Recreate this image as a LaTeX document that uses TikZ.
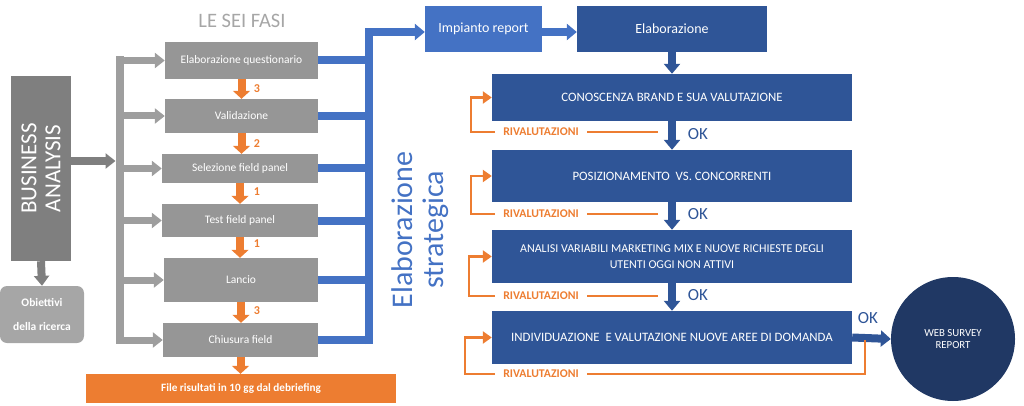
\documentclass[tikz,border=0pt]{standalone}
\usepackage{fontspec}
\setmainfont{Carlito}
\usetikzlibrary{arrows.meta,calc}
\definecolor{boxgray}{HTML}{969696}
\definecolor{bagray}{HTML}{7F7F7F}
\definecolor{obgray}{HTML}{A6A6A6}
\definecolor{brgray}{HTML}{9E9E9E}
\definecolor{titlegray}{HTML}{A6A6A6}
\definecolor{orng}{HTML}{ED7D31}
\definecolor{blu}{HTML}{4472C4}
\definecolor{dblu}{HTML}{2F5597}
\definecolor{navy}{HTML}{203864}
\begin{document}
\begin{tikzpicture}[x=1pt,y=-1pt,
  gbox/.style={fill=boxgray,text=white,inner sep=0pt,font=\fontsize{11.5}{13}\selectfont},
  dbox/.style={fill=dblu,text=white,inner sep=0pt,minimum width=360pt,align=center,font=\fontsize{12.8}{16}\selectfont},
  brarrow/.style={draw=brgray,line width=7pt,-{Triangle[width=15pt,length=10pt]}},
  brbar/.style={draw=brgray,line width=8pt},
  baarrow/.style={draw=bagray,line width=8pt,-{Triangle[width=15pt,length=10pt]}},
  orarrow/.style={draw=orng,line width=8pt,-{Triangle[width=17pt,length=8pt]}},
  numlbl/.style={text=orng,font=\bfseries\fontsize{12}{13}\selectfont,inner sep=0pt},
  bline/.style={draw=blu,line width=8pt,line join=miter},
  barrow/.style={draw=blu,line width=8pt,line join=miter,-{Triangle[width=16pt,length=10pt]}},
  dbarrow/.style={draw=dblu,line width=8pt,-{Triangle[width=16pt,length=10pt]}},
  fbline/.style={draw=orng,line width=2.5pt},
  fbarrow/.style={draw=orng,line width=2.5pt,line join=miter,-{Triangle[width=12pt,length=9pt]}},
  riv/.style={text=orng,font=\bfseries\fontsize{11.8}{13}\selectfont,inner xsep=8pt,inner ysep=0pt},
  oklbl/.style={text=dblu,font=\fontsize{17}{18}\selectfont,inner sep=0pt}
]
\useasboundingbox (0,0) rectangle (1024,406);

% title
\node[text=titlegray,font=\fontsize{20.5}{22}\selectfont] (title) at (242,21) {LE SEI FASI};

% gray phase boxes
\node[gbox,minimum width=153pt,minimum height=37pt] (q) at (241.5,60.5) {Elaborazione questionario};
\node[gbox,minimum width=153pt,minimum height=34pt] (v) at (241.5,116) {Validazione};
\node[gbox,minimum width=156pt,minimum height=29pt] (s) at (240,168.5) {Selezione field panel};
\node[gbox,minimum width=156pt,minimum height=33pt] (t) at (240,220.5) {Test field panel};
\node[gbox,minimum width=154pt,minimum height=44pt] (l) at (241,280) {Lancio};
\node[gbox,minimum width=155pt,minimum height=34pt] (c) at (240.5,340) {Chiusura field};
\node[fill=orng,text=white,inner sep=0pt,minimum width=310pt,minimum height=29pt,font=\bfseries\fontsize{11.2}{12}\selectfont] (file) at (241,388.5) {File risultati in 10 gg dal debriefing};

% orange step arrows
\draw[orarrow] (q.south) -- (q.south |- v.north);
\draw[orarrow] (v.south) -- (v.south |- s.north);
\draw[orarrow] (s.south) -- (s.south |- t.north);
\draw[orarrow] (t.south) -- (t.south |- l.north);
\draw[orarrow] (l.south) -- (l.south |- c.north);
\draw[orarrow] (c.south) -- (c.south |- file.north);
\node[numlbl] (n1) at (257,89) {3};
\node[numlbl] (n2) at (257,144) {2};
\node[numlbl] (n3) at (257,192) {1};
\node[numlbl] (n4) at (257,244) {1};
\node[numlbl] (n5) at (257,311) {3};

% business analysis
\node[fill=bagray,minimum width=60pt,minimum height=185pt,inner sep=0pt] (ba) at (41,168.5) {};
\node[rotate=90,text=white,align=center,font=\fontsize{23}{24}\selectfont] (batext) at (ba.center) {BUSINESS\\ANALYSIS};
\node[fill=obgray,rounded corners=7pt,minimum width=84pt,minimum height=57pt,inner sep=0pt,text=white,align=center,font=\bfseries\fontsize{11.5}{24}\selectfont] (ob) at (42,314.5) {Obiettivi\\della ricerca};
\draw[baarrow] (ba.south) -- (ob.north);

% gray bracket
\coordinate (bx) at (119.5,0);
\coordinate (btop) at (119.5,56.5);
\coordinate (bbot) at (119.5,344);
\coordinate (bain) at (115.5,161);
\draw[baarrow] (ba.east |- bain) -- (bain);
\draw[brbar] (btop) -- (bbot);
\foreach \b in {q,v,s,t,l,c} \draw[brarrow] (\b.west -| bx) -- (\b.west);

% blue collector
\node[fill=blu,text=white,inner sep=0pt,minimum width=117pt,minimum height=46pt,font=\fontsize{14}{15}\selectfont] (imp) at (483.5,29) {Impianto report};
\node[fill=dblu,text=white,inner sep=0pt,minimum width=190pt,minimum height=46pt,font=\fontsize{14}{15}\selectfont] (ela) at (672,29) {Elaborazione};
\coordinate (by) at (368.5,0);
\coordinate (y32) at (0,32);
\coordinate (bybot) at (368.5,344);
\foreach \b in {q,v,s,t,l,c} \draw[bline] (\b.east) -- (\b.east -| by);
\draw[barrow] (bybot) |- (imp.west |- y32);
\draw[barrow] (imp.east |- y32) -- (ela.west |- y32);

\node[rotate=90,text=blu,align=center,font=\fontsize{30}{31}\selectfont] (es) at (420,230) {Elaborazione\\strategica};

% strategic boxes
\node[dbox,minimum height=47pt] (b1) at (672,97.5) {CONOSCENZA BRAND E SUA VALUTAZIONE};
\node[dbox,minimum height=52pt] (b2) at (672,176) {POSIZIONAMENTO \ VS. CONCORRENTI};
\node[dbox,minimum height=53pt,font=\fontsize{12}{16}\selectfont] (b3) at (672,256.5) {ANALISI VARIABILI MARKETING MIX E NUOVE RICHIESTE DEGLI\\UTENTI OGGI NON ATTIVI};
\node[dbox,minimum height=53pt] (b4) at (672,337.5) {INDIVIDUAZIONE \ E VALUTAZIONE NUOVE AREE DI DOMANDA};
\node[circle,fill=navy,minimum size=124pt,inner sep=0pt,text=white,align=center,font=\fontsize{10.8}{12}\selectfont] (ws) at (953,339) {WEB SURVEY\\REPORT};

\draw[dbarrow] (ela.south) -- (b1.north);
\draw[dbarrow] (b1.south) -- (b2.north);
\draw[dbarrow] (b2.south) -- (b3.north);
\draw[dbarrow] (b3.south) -- (b4.north);
\draw[dbarrow] (b4.east) -- (ws.west);
\node[oklbl] (ok1) at (698,134) {OK};
\node[oklbl] (ok2) at (698,214) {OK};
\node[oklbl] (ok3) at (698,295) {OK};
\node[oklbl] (ok4) at (868,318) {OK};

% feedback loops
\node[riv] (r1) at (541,132) {RIVALUTAZIONI};
\node[riv] (r2) at (541,214) {RIVALUTAZIONI};
\node[riv] (r3) at (541,296) {RIVALUTAZIONI};
\node[riv] (r4) at (541,374) {RIVALUTAZIONI};
\coordinate (f1) at (658,132);
\coordinate (f2) at (658,214);
\coordinate (f3) at (658,296);
\coordinate (f4) at (865,340);
\draw[fbline] (f1) -- (r1.east);
\draw[fbline] (f2) -- (r2.east);
\draw[fbline] (f3) -- (r3.east);
\draw[fbline] (f4) |- (r4.east);
\draw[fbarrow] (r1.west) -- (471,132) |- (b1.west);
\draw[fbarrow] (r2.west) -- (471,214) |- (b2.west);
\draw[fbarrow] (r3.west) -- (469,296) |- (b3.west);
\draw[fbarrow] (r4.west) -- (465,374) |- (b4.west);
\end{tikzpicture}
\end{document}
